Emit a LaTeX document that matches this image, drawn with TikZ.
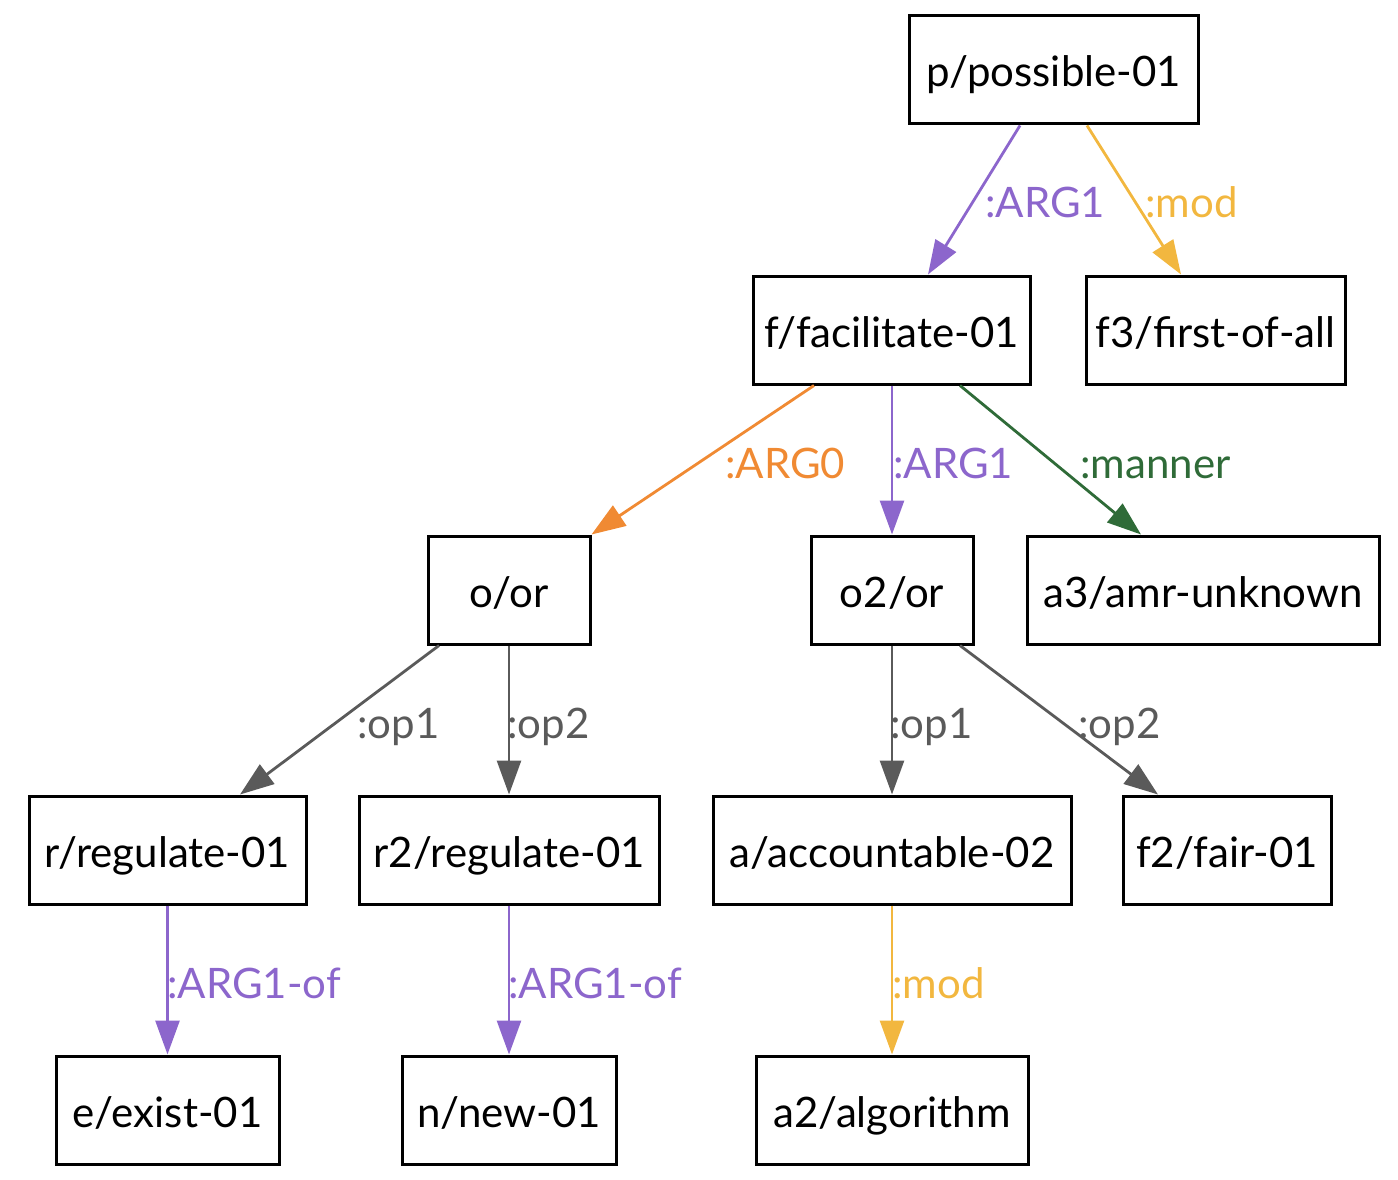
\documentclass[tikz,border=0pt]{standalone}
\usepackage{fontspec}
\setmainfont{Lato}
\usetikzlibrary{arrows.meta,calc}
\definecolor{cpurple}{HTML}{8C66CC}
\definecolor{cyellow}{HTML}{F2B73F}
\definecolor{corange}{HTML}{F08A33}
\definecolor{cgreen}{HTML}{2F6B38}
\definecolor{cgray}{HTML}{5A5A5A}
\tikzset{
  amrbox/.style={draw=black, line width=3pt, minimum height=108pt, inner xsep=0pt, inner ysep=0pt,
    text height=34pt, text depth=0pt, font=\fontsize{42}{50}\selectfont},
  edge/.style={line width=2.8pt, -{Triangle[length=34pt,width=24pt]}},
  lbl/.style={anchor=base west, inner sep=0pt, font=\fontsize{42}{50}\selectfont},
}
\begin{document}
\begin{tikzpicture}[x=1pt,y=-1pt]
\useasboundingbox (0,0) rectangle (1398,1180);
% nodes
\node[amrbox, minimum width=289pt] (p)  at (1053.5,70)  {p/possible-01};
\node[amrbox, minimum width=277pt] (f)  at (891.5,330)  {f/facilitate-01};
\node[amrbox, minimum width=259pt] (f3) at (1215.5,330) {f3/first-of-all};
\node[amrbox, minimum width=162pt] (o)  at (509,590)    {o/or};
\node[amrbox, minimum width=162pt] (o2) at (892,590)    {o2/or};
\node[amrbox, minimum width=352pt] (a3) at (1203,590)   {a3/amr-unknown};
\node[amrbox, minimum width=277pt] (r)  at (167.5,850)  {r/regulate-01};
\node[amrbox, minimum width=300pt] (r2) at (509,850)    {r2/regulate-01};
\node[amrbox, minimum width=358pt] (a)  at (892,850)    {a/accountable-02};
\node[amrbox, minimum width=208pt] (f2) at (1227,850)   {f2/fair-01};
\node[amrbox, minimum width=223pt] (e)  at (167.5,1110) {e/exist-01};
\node[amrbox, minimum width=214pt] (n)  at (509,1110)   {n/new-01};
\node[amrbox, minimum width=272pt] (a2) at (892,1110)   {a2/algorithm};
% edges
\draw[edge, cpurple] ($(p.south)+(-33.5,0)$) -- ($(f.north)+(36.5,0)$);
\draw[edge, cyellow] ($(p.south)+(33.5,0)$) -- ($(f3.north)+(-34.5,0)$);
\draw[edge, corange] ($(f.south)+(-77.5,0)$) -- (o.north east);
\draw[edge, cpurple] (f.south -| o2.north) -- (o2.north);
\draw[edge, cgreen] ($(f.south)+(68.5,0)$) -- ($(a3.north)+(-62,0)$);
\draw[edge, cgray] ($(o.south)+(-70,0)$) -- ($(r.north)+(72.5,0)$);
\draw[edge, cgray] (o.south) -- (r2.north);
\draw[edge, cgray] (o2.south) -- (a.north);
\draw[edge, cgray] ($(o2.south)+(68,0)$) -- ($(f2.north)+(-69,0)$);
\draw[edge, cpurple] (r.south) -- (e.north);
\draw[edge, cpurple] (r2.south) -- (n.north);
\draw[edge, cyellow] (a.south) -- (a2.north);
% labels
\node[lbl, text=cpurple] (l1) at (985,218) {:ARG1};
\node[lbl, text=cyellow] (l2) at (1145,218) {:mod};
\node[lbl, text=corange] (l3) at (725,478) {:ARG0};
\node[lbl, text=cpurple] (l4) at (893,478) {:ARG1};
\node[lbl, text=cgreen] (l5) at (1080,478) {:manner};
\node[lbl, text=cgray] (l6) at (357,738) {:op1};
\node[lbl, text=cgray] (l7) at (507,738) {:op2};
\node[lbl, text=cgray] (l8) at (890,738) {:op1};
\node[lbl, text=cgray] (l9) at (1078,738) {:op2};
\node[lbl, text=cpurple] (l10) at (167,998) {:ARG1-of};
\node[lbl, text=cpurple] (l11) at (508,998) {:ARG1-of};
\node[lbl, text=cyellow] (l12) at (892,998) {:mod};
\end{tikzpicture}
\end{document}
